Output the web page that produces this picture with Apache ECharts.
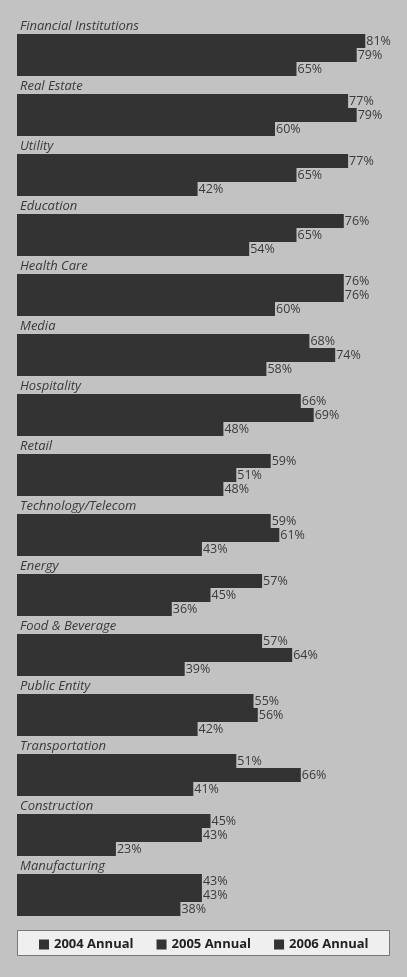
<!DOCTYPE html>
<html>
<head>
<meta charset="utf-8">
<script src="https://cdn.jsdelivr.net/npm/echarts@6/dist/echarts.min.js"></script>
<style>
  html, body { margin: 0; padding: 0; background: #c2c2c2; }
  #chart { width: 407px; height: 977px; }
</style>
</head>
<body>
<div id="chart"></div>
<script>
// Industry segments, listed top to bottom
const categories = [
  'Financial Institutions', 'Real Estate', 'Utility', 'Education', 'Health Care',
  'Media', 'Hospitality', 'Retail', 'Technology/Telecom', 'Energy',
  'Food & Beverage', 'Public Entity', 'Transportation', 'Construction', 'Manufacturing'
];
const seriesNames = ['2004 Annual', '2005 Annual', '2006 Annual'];
const values2004 = [81, 77, 77, 76, 76, 68, 66, 59, 59, 57, 57, 55, 51, 45, 43];
const values2005 = [79, 79, 65, 65, 76, 74, 69, 51, 61, 45, 64, 56, 66, 43, 43];
const values2006 = [65, 60, 42, 54, 60, 58, 48, 48, 43, 36, 39, 42, 41, 23, 38];

const barColor = '#333333';
const textColor = '#3a3a3a';

function barSeries(name, data) {
  return {
    name: name,
    type: 'bar',
    data: data,
    barGap: '0%',
    barWidth: 14,
    itemStyle: { color: barColor },
    label: {
      show: true,
      position: 'right',
      distance: 1,
      formatter: '{c}%',
      color: textColor,
      fontFamily: 'Open Sans',
      fontSize: 12.5
    }
  };
}

const chart = echarts.init(document.getElementById('chart'));
chart.setOption({
  backgroundColor: '#c2c2c2',
  animation: false,
  grid: { left: 17, right: 3, top: 25, bottom: 52, containLabel: false, outerBoundsMode: 'none' },
  xAxis: {
    type: 'value', min: 0, max: 90,
    show: false
  },
  yAxis: {
    type: 'category',
    data: categories,
    inverse: true,
    axisLine: { show: false },
    axisTick: { show: false },
    splitLine: { show: false },
    axisLabel: {
      inside: true,
      margin: 3,
      align: 'left',
      verticalAlign: 'bottom',
      lineHeight: 57,
      color: textColor,
      fontFamily: 'Open Sans',
      fontStyle: 'italic',
      fontSize: 13
    },
    z: 5
  },
  legend: {
    data: seriesNames,
    left: 34,
    top: 933,
    itemWidth: 10,
    itemHeight: 10,
    itemGap: 23,
    icon: 'rect',
    itemStyle: { color: barColor },
    textStyle: { color: '#222', fontFamily: 'Open Sans', fontWeight: 'bold', fontSize: 13 }
  },
  graphic: [{
    type: 'rect',
    shape: { x: 17.5, y: 930.5, width: 372, height: 25 },
    style: { fill: '#efefef', stroke: '#777', lineWidth: 1 },
    z: -1
  }],
  series: [
    barSeries(seriesNames[0], values2004),
    barSeries(seriesNames[1], values2005),
    barSeries(seriesNames[2], values2006)
  ]
});
</script>
</body>
</html>
